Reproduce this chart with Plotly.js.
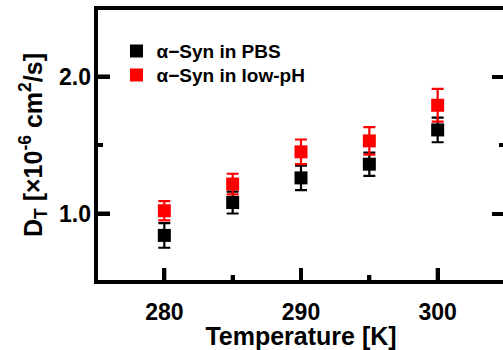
<!DOCTYPE html>
<html><head><meta charset="utf-8">
<script src="https://cdn.plot.ly/plotly-3.0.1.min.js"></script>
<style>html,body{margin:0;padding:0;overflow:hidden;background:#fff}#chart{width:510px;height:350px}</style>
</head><body><div id="chart"></div>
<script>
const temperature = [280, 285, 290, 295, 300];
const pbsValues = [0.84, 1.08, 1.26, 1.36, 1.61];
const pbsErrors = [0.09, 0.08, 0.09, 0.085, 0.09];
const lowPhValues = [1.02, 1.215, 1.45, 1.53, 1.79];
const lowPhErrors = [0.07, 0.075, 0.09, 0.10, 0.12];
const seriesNames = ['α−Syn in PBS', 'α−Syn in low-pH'];
const seriesColors = ['#000000', '#ff0000'];
const xTicks = [280, 290, 300];
const xMinorTicks = [285, 295];
const yTicks = [1.0, 2.0];
const yMinorTicks = [1.5];
const yTickText = ['1.0', '2.0'];
const xRange = [275, 305];
const yRange = [0.5, 2.5];
const FONT = 'Liberation Sans, Arial, sans-serif';

function trace(x, y, err, name, color, legend) {
  return {x: x, y: y, name: name, type: 'scatter', mode: 'markers', legend: legend,
    marker: {symbol: 'square', size: 13, color: color},
    error_y: {type: 'data', array: err, visible: true, color: color, thickness: 2.2, width: 6}};
}
const data = [
  trace(temperature, pbsValues, pbsErrors, seriesNames[0], seriesColors[0], 'legend'),
  trace(temperature, lowPhValues, lowPhErrors, seriesNames[1], seriesColors[1], 'legend2')
];
const tickCommon = {ticks: 'inside', ticklen: 14, tickwidth: 4, tickcolor: '#000',
  showgrid: false, zeroline: false, showline: false};
const xMinor = {dtick: 5, tick0: 280, ticks: 'inside', ticklen: 7, tickwidth: 4, tickcolor: '#000', showgrid: false};
const yMinor = {dtick: 0.5, tick0: 0, ticks: 'inside', ticklen: 7, tickwidth: 4, tickcolor: '#000', showgrid: false};

// inward tick marks on the bottom and left edges, placed by the axes' own scales
function xTickShape(v, len) {
  return {type: 'line', xref: 'x', yref: 'paper', x0: v, x1: v, ysizemode: 'pixel', yanchor: 0,
    y0: 0, y1: len, line: {color: '#000', width: 4}, layer: 'above'};
}
function yTickShape(v, len) {
  return {type: 'line', yref: 'y', xref: 'paper', y0: v, y1: v, xsizemode: 'pixel', xanchor: 0,
    x0: 0, x1: len, line: {color: '#000', width: 4}, layer: 'above'};
}
const shapes = [{type: 'rect', xref: 'paper', yref: 'paper', x0: 0, x1: 1, y0: 0, y1: 1,
  line: {color: '#000', width: 4}, fillcolor: 'rgba(0,0,0,0)', layer: 'above'}]
  .concat(xTicks.map(v => xTickShape(v, 14)))
  .concat(xMinorTicks.map(v => xTickShape(v, 7)))
  .concat(yTicks.map(v => yTickShape(v, 14)))
  .concat(yMinorTicks.map(v => yTickShape(v, 7)));

const layout = {
  width: 510, height: 350, margin: {l: 96, r: 4, t: 8, b: 68},
  paper_bgcolor: '#fff', plot_bgcolor: '#fff',
  font: {family: FONT, color: '#000', weight: 'bold'},
  legend: {x: 0.05, y: 0.912, xanchor: 'left', yanchor: 'top', bgcolor: 'rgba(0,0,0,0)', font: {size: 19}},
  legend2: {x: 0.05, y: 0.824, xanchor: 'left', yanchor: 'top', bgcolor: 'rgba(0,0,0,0)', font: {size: 19}},
  xaxis: Object.assign({}, tickCommon, {range: xRange, tickmode: 'array', tickvals: xTicks,
    tickfont: {family: FONT, size: 23, weight: 'bold'}, ticklabelstandoff: 14, minor: xMinor,
    title: {text: 'Temperature [K]', font: {size: 25}, standoff: 10}}),
  yaxis: Object.assign({}, tickCommon, {range: yRange, tickmode: 'array', tickvals: yTicks, ticktext: yTickText,
    tickfont: {family: FONT, size: 23, weight: 'bold'}, ticklabelstandoff: 4, minor: yMinor,
    title: {text: 'D<sub>T</sub> [×10<sup>-6</sup> cm<sup>2</sup>/s]', font: {size: 25}, standoff: 9}}),
  yaxis2: Object.assign({}, tickCommon, {overlaying: 'y', side: 'right', anchor: 'x',
    range: yRange, tickmode: 'array', tickvals: yTicks, showticklabels: false, minor: yMinor}),
  shapes: shapes
};
data.push({x: [temperature[0]], y: [yTicks[0]], yaxis: 'y2', type: 'scatter', mode: 'markers',
  marker: {opacity: 0}, showlegend: false});
Plotly.newPlot('chart', data, layout, {displayModeBar: false, staticPlot: true});
</script></body></html>
